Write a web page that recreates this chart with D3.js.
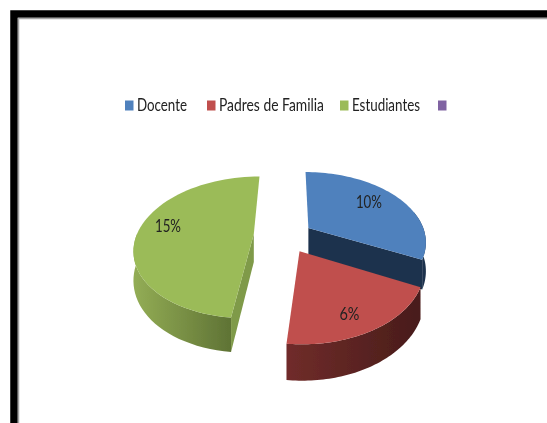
<!DOCTYPE html>
<html><head><meta charset="utf-8">
<script src="https://cdn.jsdelivr.net/npm/d3@7"></script>
<style>html,body{margin:0;padding:0;background:#fff}svg{display:block}text{font-family:Lato,"Liberation Sans",sans-serif;fill:#222}</style>
</head><body><svg id="c" width="547" height="423"></svg>
<script>
const categories=["Docente","Padres de Familia","Estudiantes",""];
const values=[10,6,15,0];
const labels=["10%","6%","15%",""];
const explodeX=[0.16,0.078,-0.31,0];
const explodeY=[-0.19,0.14,-0.10,0];
const topColors=["#4f81bd","#c0504d","#9bbb59","#8064a2"];
const cutColors=["#1f334e","#4a1d1b","#7f9a48","#8064a2"];
const wallStops=[["#1f334e","#1f334e"],["#702c2a","#481c1a"],["#93ad55","#5f7335"],["#8064a2","#8064a2"]];

const svg=d3.select("#c");
const defs=svg.append("defs");
defs.append("filter").attr("id","soft").append("feGaussianBlur").attr("stdDeviation",0.35);
const root=svg.append("g").attr("filter","url(#soft)");

// frame
root.append("path").attr("d","M547 14H14V423").attr("fill","none").attr("stroke","#000").attr("stroke-width",7.5);
root.append("path").attr("d","M547 18.5H18.5V423").attr("fill","none").attr("stroke","#a6a6a6").attr("stroke-width",1.5);

// pie in ground plane, projected with perspective
const cx=290,cy=241,rx=119,ry=71,k=0.19,depth=28.5;
const pie=d3.pie().sort(null).value(d=>d).startAngle(0).endAngle(2*Math.PI);
const arcs=pie(values);
const project=(u,v,h)=>{const w=1-k*v;return [cx+rx*u/w,cy+(ry*v+depth*h)/w];};
const line=d3.line();

arcs.forEach((a,i)=>{
  if(a.value===0)return;
  const ox=explodeX[i],oy=explodeY[i];
  const angs=d3.range(0,61).map(t=>a.startAngle+(a.endAngle-a.startAngle)*t/60);
  const rim=h=>angs.map(t=>project(ox+Math.sin(t),oy-Math.cos(t),h));
  const apex=h=>project(ox,oy,h);
  const top=rim(0),bot=rim(1);
  const id="wall"+i;
  const vis=angs.map((t,j)=>j).filter(j=>Math.cos(angs[j])<0.05||Math.sin(angs[j])>0.96);
  const xs=vis.map(j=>top[j][0]);
  const g=defs.append("linearGradient").attr("id",id).attr("gradientUnits","userSpaceOnUse")
    .attr("x1",d3.min(xs)).attr("x2",d3.max(xs)).attr("y1",0).attr("y2",0);
  g.append("stop").attr("offset",0).attr("stop-color",wallStops[i][0]);
  g.append("stop").attr("offset",1).attr("stop-color",wallStops[i][1]);
  const slice=root.append("g");
  const wall=[...vis.map(j=>top[j]),...vis.slice().reverse().map(j=>bot[j])];
  slice.append("path").attr("d",line(wall)+"Z").attr("fill",`url(#${id})`);
  const faceEnd=i===0?angs.length-1:(i===2?0:-1);
  if(faceEnd>=0){
    slice.append("path").attr("d",line([apex(0),top[faceEnd],bot[faceEnd],apex(1)])+"Z").attr("fill",cutColors[i]);
  }
  slice.append("path").attr("d",line([apex(0),...top])+"Z").attr("fill",topColors[i]);
});

// percentage labels
const labelWidths=[26,20,26];
arcs.forEach((a,i)=>{
  if(!labels[i])return;
  const offs=[[0.58,-0.42],[0.34,0.72],[-0.76,-0.13]][i];
  const p=project(explodeX[i]+offs[0],explodeY[i]+offs[1],0);
  root.append("text").attr("x",p[0]-labelWidths[i]/2).attr("y",p[1]).attr("dy","0.35em").attr("font-size",18)
    .attr("textLength",labelWidths[i]).attr("lengthAdjust","spacingAndGlyphs").text(labels[i]);
});

// legend
const legendStart=[125,207,340,438];
const legendWidths=[50,105,68,0];
categories.forEach((c,i)=>{
  const g=root.append("g").attr("transform",`translate(${legendStart[i]},0)`);
  g.append("rect").attr("x",0).attr("y",100.5).attr("width",8.5).attr("height",10).attr("fill",topColors[i]);
  if(c)g.append("text").attr("x",12).attr("y",111).attr("font-size",16.5)
    .attr("textLength",legendWidths[i]).attr("lengthAdjust","spacingAndGlyphs").text(c);
});
</script></body></html>
